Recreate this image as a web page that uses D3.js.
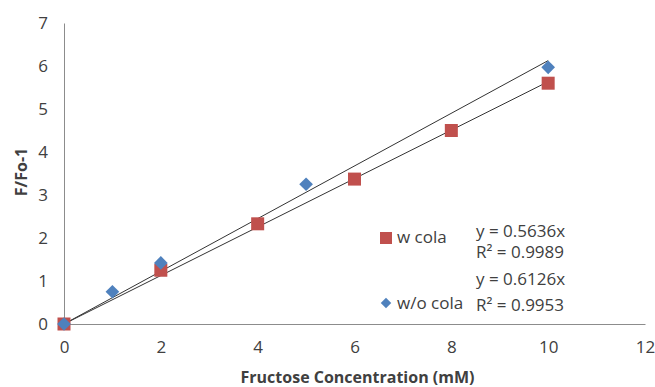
<!DOCTYPE html>
<html>
<head>
<meta charset="utf-8">
<script src="https://cdn.jsdelivr.net/npm/d3@7"></script>
<style>
  body { margin: 0; background: #fff; }
  text { font-family: "Open Sans", sans-serif; fill: #404040; }
</style>
</head>
<body>
<div id="chart"></div>
<script>
// values
var colaX = [0, 2, 4, 6, 8, 10];
var colaY = [0, 1.25, 2.33, 3.37, 4.5, 5.6];
var noColaX = [0, 1, 2, 5, 10];
var noColaY = [0, 0.75, 1.42, 3.25, 5.97];
var slopes = [0.5636, 0.6126];
var rSquared = ["0.9989", "0.9953"];
var seriesNames = ["w cola", "w/o cola"];
var xTicks = [0, 2, 4, 6, 8, 10, 12];
var yTicks = [0, 1, 2, 3, 4, 5, 6, 7];

var W = 655, H = 387;
var margin = { top: 23, right: 10, bottom: 63, left: 64 };
var width = 645 - margin.left,
    height = 324 - margin.top;

var svg = d3.select("#chart").append("svg")
    .attr("width", W)
    .attr("height", H)
    .append("g")
    .attr("transform", "translate(" + margin.left + "," + margin.top + ")");

var x = d3.scaleLinear().domain([0, 12]).range([0, width]);
var y = d3.scaleLinear().domain([0, 7]).range([height, 0]);

// axes, no tick marks
var gx = svg.append("g")
    .attr("transform", "translate(0," + height + ")")
    .call(d3.axisBottom(x).tickValues(xTicks).tickSize(0).tickPadding(17).tickFormat(d3.format("d")));
var gy = svg.append("g")
    .call(d3.axisLeft(y).tickValues(yTicks).tickSize(0).tickPadding(16).tickFormat(d3.format("d")));
svg.selectAll(".domain").attr("stroke", "#8c8c8c");
svg.selectAll(".tick text").style("font-size", "17px").style("font-family", "Open Sans, sans-serif").attr("fill", "#404040");

// trend lines through origin
slopes.forEach(function(m) {
    svg.append("line")
        .attr("x1", x(0)).attr("y1", y(0))
        .attr("x2", x(10)).attr("y2", y(10 * m))
        .attr("stroke", "#333")
        .attr("stroke-width", 1);
});

var cola = colaX.map(function(d, i) { return { x: d, y: colaY[i] }; });
var noCola = noColaX.map(function(d, i) { return { x: d, y: noColaY[i] }; });

svg.selectAll(".sq").data(cola).enter().append("rect")
    .attr("class", "sq")
    .attr("x", function(d) { return x(d.x) - 6.5; })
    .attr("y", function(d) { return y(d.y) - 6.5; })
    .attr("width", 13).attr("height", 13)
    .attr("fill", "#c0504d");

var diamond = d3.symbol().type(d3.symbolDiamond2).size(120);
svg.selectAll(".dm").data(noCola).enter().append("path")
    .attr("class", "dm")
    .attr("d", diamond)
    .attr("transform", function(d) { return "translate(" + x(d.x) + "," + y(d.y) + ")"; })
    .attr("fill", "#4f81bd");

// axis titles
svg.append("text")
    .attr("x", width / 2 + 3).attr("y", height + 59)
    .attr("text-anchor", "middle")
    .style("font-size", "16px").style("font-weight", "bold")
    .text("Fructose Concentration (mM)");
svg.append("text")
    .attr("transform", "translate(" + (-37) + "," + (172 - margin.top) + ") rotate(-90)")
    .attr("text-anchor", "middle")
    .style("font-size", "16px").style("font-weight", "bold")
    .text("F/Fo-1");

// legend + equations
var leg = d3.select("svg").append("g");
leg.append("rect").attr("x", 380).attr("y", 232).attr("width", 12).attr("height", 12).attr("fill", "#c0504d");
leg.append("path").attr("d", d3.symbol().type(d3.symbolDiamond2).size(70))
    .attr("transform", "translate(386,303)").attr("fill", "#4f81bd");
leg.append("text").attr("x", 397).attr("y", 243).style("font-size", "17px").text(seriesNames[0]);
leg.append("text").attr("x", 397).attr("y", 309).style("font-size", "17px").text(seriesNames[1]);

var eqY = [[237, 258], [285, 311]];
slopes.forEach(function(m, i) {
    leg.append("text").attr("x", 476).attr("y", eqY[i][0]).style("font-size", "17px")
        .text("y = " + m + "x");
    leg.append("text").attr("x", 476).attr("y", eqY[i][1]).style("font-size", "17px")
        .text("R\u00b2 = " + rSquared[i]);
});
</script>
</body>
</html>
